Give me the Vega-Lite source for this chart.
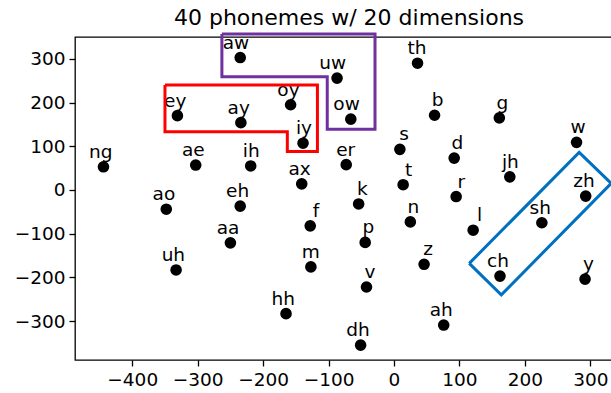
{
  "$schema": "https://vega.github.io/schema/vega-lite/v6.json",
  "autosize": {"type": "none"},
  "padding": {"left": 75, "top": 37, "right": 0, "bottom": 33},
  "width": 548,
  "height": 323,
  "title": {"text": "40 phonemes w/ 20 dimensions", "font": "DejaVu Sans", "fontSize": 22, "fontWeight": "normal", "color": "black", "offset": 6, "dy": 8, "anchor": "middle", "frame": "group"},
  "config": {
    "view": {"stroke": "black", "strokeWidth": 1.3},
    "axis": {"grid": false, "domain": false, "tickColor": "black", "tickWidth": 1.3, "tickSize": 6, "labelFont": "DejaVu Sans", "labelFontSize": 18.5, "labelColor": "black", "labelPadding": 4, "title": null}
  },
  "datasets": {
    "pts": [
      {"label": "aw", "x": -235, "y": 303},
      {"label": "ey", "x": -331, "y": 170},
      {"label": "ay", "x": -234, "y": 154},
      {"label": "oy", "x": -158, "y": 195},
      {"label": "iy", "x": -139, "y": 107},
      {"label": "ng", "x": -444, "y": 53},
      {"label": "ae", "x": -303, "y": 57},
      {"label": "ih", "x": -219, "y": 55},
      {"label": "ax", "x": -141, "y": 14},
      {"label": "uw", "x": -87, "y": 256},
      {"label": "ow", "x": -66, "y": 162},
      {"label": "th", "x": 36, "y": 290},
      {"label": "b", "x": 62, "y": 171},
      {"label": "g", "x": 161, "y": 165},
      {"label": "s", "x": 9, "y": 93},
      {"label": "er", "x": -73, "y": 58},
      {"label": "d", "x": 92, "y": 73},
      {"label": "w", "x": 279, "y": 109},
      {"label": "jh", "x": 177, "y": 30},
      {"label": "t", "x": 14, "y": 12},
      {"label": "zh", "x": 293, "y": -14},
      {"label": "ao", "x": -348, "y": -44},
      {"label": "eh", "x": -235, "y": -37},
      {"label": "aa", "x": -250, "y": -121},
      {"label": "f", "x": -128, "y": -82},
      {"label": "uh", "x": -333, "y": -183},
      {"label": "m", "x": -127, "y": -176},
      {"label": "hh", "x": -165, "y": -283},
      {"label": "k", "x": -54, "y": -32},
      {"label": "r", "x": 95, "y": -15},
      {"label": "n", "x": 25, "y": -73},
      {"label": "l", "x": 121, "y": -92},
      {"label": "sh", "x": 226, "y": -75},
      {"label": "p", "x": -44, "y": -120},
      {"label": "z", "x": 46, "y": -170},
      {"label": "ch", "x": 162, "y": -197},
      {"label": "y", "x": 292, "y": -204},
      {"label": "v", "x": -42, "y": -222},
      {"label": "ah", "x": 76, "y": -309},
      {"label": "dh", "x": -51, "y": -355}
    ],
    "shapes": [
      {"shape": "red", "i": 0, "x": -350, "y": 240},
      {"shape": "red", "i": 1, "x": -117, "y": 240},
      {"shape": "red", "i": 2, "x": -117, "y": 88},
      {"shape": "red", "i": 3, "x": -163, "y": 88},
      {"shape": "red", "i": 4, "x": -163, "y": 133},
      {"shape": "red", "i": 5, "x": -350, "y": 133},
      {"shape": "red", "i": 6, "x": -350, "y": 240},
      {"shape": "purple", "i": 0, "x": -263, "y": 357},
      {"shape": "purple", "i": 1, "x": -29, "y": 357},
      {"shape": "purple", "i": 2, "x": -29, "y": 139},
      {"shape": "purple", "i": 3, "x": -102, "y": 139},
      {"shape": "purple", "i": 4, "x": -102, "y": 259},
      {"shape": "purple", "i": 5, "x": -263, "y": 259},
      {"shape": "purple", "i": 6, "x": -263, "y": 357},
      {"shape": "blue", "i": 0, "x": 115, "y": -168},
      {"shape": "blue", "i": 1, "x": 283, "y": 86},
      {"shape": "blue", "i": 2, "x": 332, "y": 15},
      {"shape": "blue", "i": 3, "x": 164, "y": -240},
      {"shape": "blue", "i": 4, "x": 115, "y": -168}
    ]
  },
  "layer": [
    {
      "data": {"name": "pts"},
      "mark": {"type": "point", "filled": true, "color": "black", "opacity": 1, "size": 135},
      "encoding": {
        "x": {"field": "x", "type": "quantitative", "scale": {"domain": [-487.5, 350], "nice": false, "zero": false}, "axis": {"values": [-400, -300, -200, -100, 0, 100, 200, 300]}},
        "y": {"field": "y", "type": "quantitative", "scale": {"domain": [-389, 350], "nice": false, "zero": false}, "axis": {"values": [-300, -200, -100, 0, 100, 200, 300]}}
      }
    },
    {
      "data": {"name": "pts"},
      "mark": {"type": "text", "align": "right", "baseline": "alphabetic", "dx": 9, "dy": -9, "font": "DejaVu Sans", "fontSize": 18.5, "color": "black"},
      "encoding": {
        "x": {"field": "x", "type": "quantitative"},
        "y": {"field": "y", "type": "quantitative"},
        "text": {"field": "label"}
      }
    },
    {
      "data": {"name": "shapes"},
      "mark": {"type": "line", "strokeWidth": 3, "clip": false},
      "encoding": {
        "x": {"field": "x", "type": "quantitative"},
        "y": {"field": "y", "type": "quantitative"},
        "order": {"field": "i", "type": "quantitative"},
        "detail": {"field": "shape"},
        "color": {"field": "shape", "type": "nominal", "scale": {"domain": ["red", "purple", "blue"], "range": ["#ff0000", "#7030a0", "#0070c0"]}, "legend": null}
      }
    }
  ]
}
